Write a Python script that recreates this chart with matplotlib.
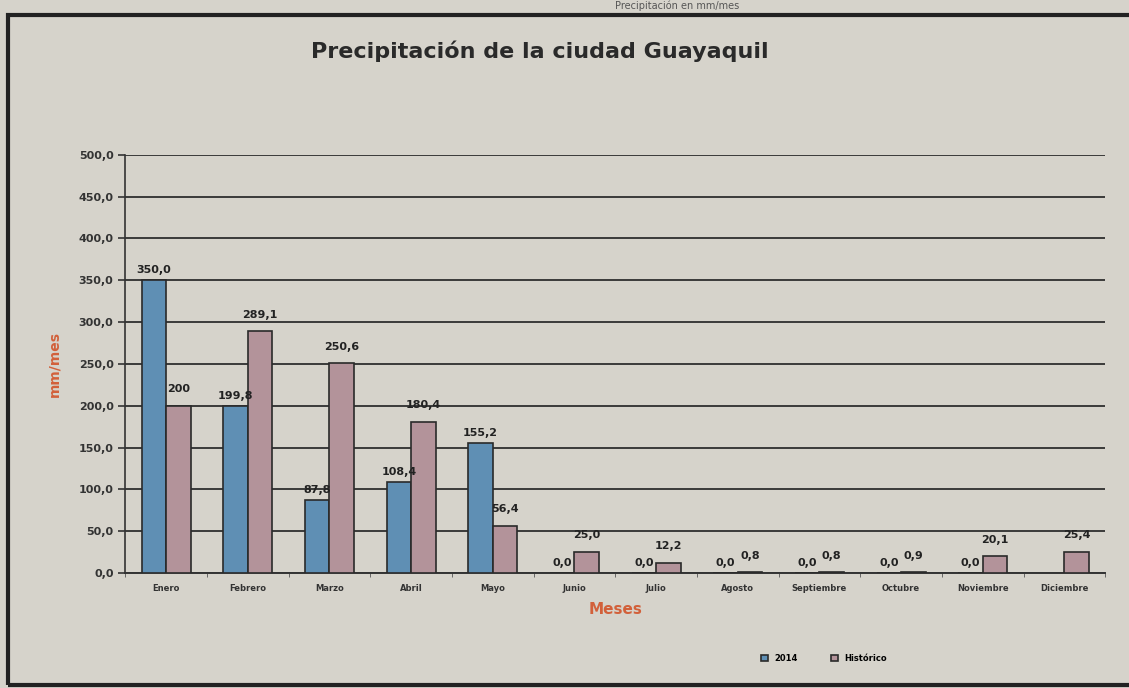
import numpy as np
import matplotlib.pyplot as plt
from matplotlib.patches import Rectangle

meses = ['Enero', 'Febrero', 'Marzo', 'Abril', 'Mayo', 'Junio', 'Julio',
         'Agosto', 'Septiembre', 'Octubre', 'Noviembre', 'Diciembre']
p2014 = [350.0, 199.8, 87.8, 108.4, 155.2, 0.0, 0.0, 0.0, 0.0, 0.0, 0.0, np.nan]
historico = [200, 289.1, 250.6, 180.4, 56.4, 25.0, 12.2, 0.8, 0.8, 0.9, 20.1, 25.4]
lab2014 = ['350,0', '199,8', '87,8', '108,4', '155,2', '0,0', '0,0', '0,0', '0,0', '0,0', '0,0', '']
labhist = ['200', '289,1', '250,6', '180,4', '56,4', '25,0', '12,2', '0,8', '0,8', '0,9', '20,1', '25,4']

paper = '#d6d3cb'
fig = plt.figure(figsize=(11.29, 6.88), dpi=100, facecolor=paper)
ax = fig.add_axes([0.111, 0.167, 0.868, 0.608])
ax.set_facecolor(paper)

x = np.arange(len(meses))
w = 0.3
b1 = ax.bar(x - w / 2, p2014, w, color='#5f8fb4', edgecolor='#2a2a2a', linewidth=1.2, label='2014', zorder=3)
b2 = ax.bar(x + w / 2, historico, w, color='#b3939a', edgecolor='#2a2a2a', linewidth=1.2, label='Histórico', zorder=3)

for i in range(len(meses)):
    if lab2014[i]:
        v = 0 if np.isnan(p2014[i]) else p2014[i]
        ax.text(x[i] - w / 2, v + 6, lab2014[i], ha='center', va='bottom',
                fontsize=8, fontweight='bold', color='#222222', zorder=4)
    ax.text(x[i] + w / 2, historico[i] + 14, labhist[i], ha='center', va='bottom',
            fontsize=8, fontweight='bold', color='#222222', zorder=4)

ax.set_xlim(-0.5, 11.5)
ax.set_ylim(0, 500)
yt = np.arange(0, 501, 50)
ax.set_yticks(yt)
ax.set_yticklabels([f'{v:.1f}'.replace('.', ',') for v in yt], fontsize=8, fontweight='bold', color='#333333')
ax.set_xticks(x)
ax.set_xticklabels(meses, fontsize=6, fontweight='bold', color='#333333')
ax.set_xticks(np.arange(-0.5, 12, 1), minor=True)
ax.tick_params(axis='x', which='major', length=0, pad=8)
ax.tick_params(axis='x', which='minor', length=3, color='#555555')
ax.tick_params(axis='y', length=5, color='#333333', width=1.2)
ax.grid(axis='y', color='#3a3a3a', linewidth=1.4, zorder=0)
for s in ['top', 'right']:
    ax.spines[s].set_visible(False)
ax.spines['left'].set_color('#333333')
ax.spines['bottom'].set_color('#333333')
ax.spines['left'].set_linewidth(1.2)
ax.spines['bottom'].set_linewidth(1.4)

ax.set_ylabel('mm/mes', color='#d2603a', fontsize=10, fontweight='bold', labelpad=12)
ax.set_xlabel('Meses', color='#d2603a', fontsize=11, fontweight='bold', labelpad=6)

fig.text(0.478, 0.925, 'Precipitación de la ciudad Guayaquil', ha='center', va='center',
         fontsize=16, fontweight='bold', color='#2a2a2a')
fig.text(0.6, 0.999, 'Precipitación en mm/mes', ha='center', va='top',
         fontsize=7, color='#555555')

fig.legend(handles=[b1, b2], loc='center', bbox_to_anchor=(0.73, 0.043), ncol=2,
           frameon=False, handlelength=0.8, handleheight=0.8,
           columnspacing=4, prop={'size': 6, 'weight': 'bold'})

fig.patches.append(Rectangle((0.007, 0.004), 1.1, 0.974, transform=fig.transFigure,
                             fill=False, edgecolor='#222222', linewidth=3, zorder=10))

fig.savefig('out.png', dpi=100, facecolor=paper)
